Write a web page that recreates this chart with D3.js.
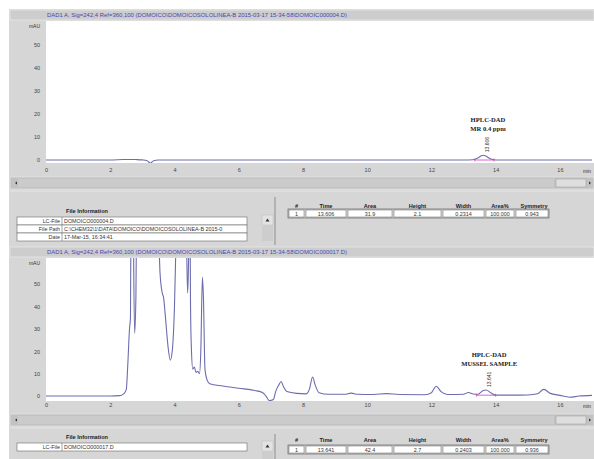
<!DOCTYPE html>
<html>
<head>
<meta charset="UTF-8">
<title>HPLC-DAD chromatograms</title>
<script src="https://d3js.org/d3.v7.min.js"></script>
<style>
  body { margin: 0; background: #fff; font-family: "Liberation Sans", Arial, sans-serif; }
  svg { display: block; }
  .tick text { font-size: 5.5px; fill: #444; font-family: "Liberation Sans", Arial, sans-serif; }
  .sig { font-size: 5.6px; fill: #4646b4; }
  .note { font-family: "Liberation Serif", "Times New Roman", serif; font-weight: bold; font-size: 6.6px; fill: #222; }
  .rt { font-size: 5px; fill: #333; }
  .small { font-size: 5.4px; fill: #333; }
  .hdr { font-size: 5.6px; font-weight: bold; fill: #222; }
</style>
</head>
<body>
<div id="chart"></div>
<script>
const xTicks = [0, 2, 4, 6, 8, 10, 12, 14, 16];
const yTicks = [0, 10, 20, 30, 40, 50];
const tableHeaders = ["#", "Time", "Area", "Height", "Width", "Area%", "Symmetry"];
const fileLabels = ["LC-File", "File Path", "Date"];

// upper run: standard MR 0.4 ppm
const topTitle = "DAD1 A, Sig=242,4 Ref=360,100 (DOMOICO\\DOMOICOSOLOLINEA-B 2015-03-17 15-34-58\\DOMOIC000004.D)";
const topTimes = [0, 0.5, 1, 1.5, 2, 2.4, 2.6, 2.8, 3.0, 3.15, 3.25, 3.35, 3.5, 4, 5, 6, 7, 8, 9, 10, 11, 12, 13, 13.3, 13.45, 13.55, 13.62, 13.7, 13.8, 13.9, 14.0, 14.5, 15, 16, 17];
const topValues = [0, 0, 0, 0, 0, 0.2, 0.25, 0.2, 0.05, -0.3, -1.4, -0.3, 0, 0, 0, 0, 0, 0, 0, 0, 0, 0, 0, 0.1, 0.9, 1.8, 2.1, 1.7, 0.8, 0.2, 0, 0, 0, 0, 0];
const topFile = ["DOMOICO000004.D", "C:\\CHEM32\\1\\DATA\\DOMOICO\\DOMOICOSOLOLINEA-B 2015-0", "17-Mar-15, 16:34:41"];
const topPeak = ["1", "13.606", "31.9", "2.1", "0.2314", "100.000", "0.943"];
const topNote = ["HPLC-DAD", "MR 0.4 ppm"];

// lower run: mussel sample
const botTitle = "DAD1 A, Sig=242,4 Ref=360,100 (DOMOICO\\DOMOICOSOLOLINEA-B 2015-03-17 15-34-58\\DOMOIC000017.D)";
const botTimes = [0, 1, 2, 2.3, 2.42, 2.5, 2.55, 2.6, 2.63, 2.66, 2.7, 2.73, 2.76, 2.8, 2.86, 3.2, 3.5, 3.55, 3.62, 3.66, 3.72, 3.8, 3.87, 3.93, 4.0, 4.05, 4.15, 4.3, 4.38, 4.41, 4.44, 4.47, 4.5, 4.53, 4.57, 4.62, 4.67, 4.72, 4.78, 4.82, 4.87, 4.9, 4.95, 5.02, 5.1, 5.5, 6, 6.5, 6.75, 6.85, 6.95, 7.08, 7.15, 7.25, 7.32, 7.4, 7.5, 7.8, 8.1, 8.2, 8.3, 8.38, 8.5, 8.8, 9.3, 9.5, 9.7, 10.2, 10.6, 11, 11.8, 12.0, 12.15, 12.3, 12.5, 13, 13.15, 13.3, 13.45, 13.6, 13.7, 13.85, 14, 14.5, 15, 15.3, 15.5, 15.7, 16, 16.3, 16.6, 17];
const botValues = [0, 0, 0, 0.2, 1, 3, 15, 30, 35, 120, 140, 60, 28, 45, 150, 300, 80, 55, 46, 44, 35, 22, 16, 20, 40, 70, 200, 150, 65, 46, 62, 110, 40, 20, 12, 13, 10.5, 11, 10, 20, 53, 45, 12, 7, 5.5, 4.5, 3.5, 2.5, 1.5, 0, -2, -1.5, 2, 5, 6.5, 4, 2, 1.2, 1, 3, 8.5, 5, 1.5, 0.8, 0.8, 1.3, 0.8, 0.7, 1.1, 0.7, 0.6, 1.5, 4.4, 2, 0.7, 0.8, 1.6, 0.9, 0.8, 2.4, 2.7, 1.5, 0.4, 0.4, 0.5, 1, 3, 1.2, 0.3, -0.5, 0, 0.3];
const botFile = ["DOMOICO000017.D"];
const botPeak = ["1", "13.641", "42.4", "2.7", "0.2403", "100.000", "0.936"];
const botNote = ["HPLC-DAD", "MUSSEL SAMPLE"];

const panels = [
  { id: "a", title: topTitle, times: topTimes, values: topValues, file: topFile, peak: topPeak, note: topNote,
    titleY: 10, plotTop: 21, plotBottom: 163, yDomain: [-1.3, 60.4], axisY: 168, scrollY: 177,
    infoTop: 191, fileInfoY: 213, tableTop: 217, hdrY: 208, boxTop: 209, peakStart: 13.35, peakEnd: 13.95, base: 0 },
  { id: "b", title: botTitle, times: botTimes, values: botValues, file: botFile, peak: botPeak, note: botNote,
    titleY: 247, plotTop: 258, plotBottom: 401, yDomain: [-2.2, 61.6], axisY: 403, scrollY: 414,
    infoTop: 428, fileInfoY: 439, tableTop: 443, hdrY: 442, boxTop: 445, peakStart: 13.4, peakEnd: 14.0, base: 0.4 }
];

const W = 594, H = 459;
const svg = d3.select("#chart").append("svg").attr("width", W).attr("height", H);
svg.append("rect").attr("width", W).attr("height", H).attr("fill", "#fff");
svg.append("rect").attr("x", 9).attr("y", 9).attr("width", W - 9).attr("height", H - 9).attr("fill", "#d6d6d6");

const x = d3.scaleLinear().domain([0, 17]).range([46, 592]);
const colEdges = [288, 305, 347, 393, 442, 485, 515, 549];

function drawPanel(p) {
  const g = svg.append("g");
  const y = d3.scaleLinear().domain(p.yDomain).range([p.plotBottom, p.plotTop]);

  // signal title bar
  g.append("rect").attr("x", 10).attr("y", p.titleY).attr("width", W - 10).attr("height", 10)
    .attr("fill", "#cdcdcd").attr("stroke", "#ececec").attr("stroke-width", 0.7);
  g.append("text").attr("class", "sig").attr("x", 47).attr("y", p.titleY + 7)
    .attr("textLength", 300).attr("lengthAdjust", "spacingAndGlyphs").text(p.title);

  // plot area
  g.append("rect").attr("x", 46).attr("y", p.plotTop).attr("width", W - 46)
    .attr("height", p.plotBottom - p.plotTop).attr("fill", "#fff");
  g.append("clipPath").attr("id", "clip-" + p.id).append("rect")
    .attr("x", 46).attr("y", p.plotTop).attr("width", W - 46).attr("height", p.plotBottom - p.plotTop);

  const yAxis = g.append("g").attr("transform", "translate(40,0)")
    .call(d3.axisLeft(y).tickValues(yTicks).tickSize(0).tickPadding(0));
  yAxis.select(".domain").remove();
  g.append("text").attr("class", "small").attr("x", 40).attr("y", p.plotTop + 7)
    .attr("text-anchor", "end").style("font-size", "5px").text("mAU");

  const xAxis = g.append("g").attr("transform", `translate(0,${p.axisY})`)
    .call(d3.axisBottom(x).tickValues(xTicks).tickSize(0).tickPadding(0));
  xAxis.select(".domain").remove();
  g.append("text").attr("class", "small").attr("x", 587).attr("y", p.axisY + 5)
    .attr("text-anchor", "middle").style("font-size", "5px").text("min");

  // trace
  const pts = p.times.map((t, i) => [t, p.values[i]]);
  const line = d3.line().x(d => x(d[0])).y(d => y(d[1])).curve(d3.curveMonotoneX);
  g.append("path").datum(pts).attr("clip-path", `url(#clip-${p.id})`)
    .attr("d", line).attr("fill", "none").attr("stroke", "#6c6cae").attr("stroke-width", 1.1);

  // integration baseline
  const baseY = y(p.base);
  g.append("line").attr("x1", x(p.peakStart)).attr("x2", x(p.peakEnd))
    .attr("y1", baseY).attr("y2", baseY).attr("stroke", "#d040c0").attr("stroke-width", 0.8);
  [p.peakStart, p.peakEnd].forEach(t => {
    g.append("line").attr("x1", x(t)).attr("x2", x(t)).attr("y1", baseY - 1.5).attr("y2", baseY + 1.5)
      .attr("stroke", "#d040c0").attr("stroke-width", 0.8);
  });

  // annotation
  const peakT = +p.peak[1];
  const ax = x(peakT) + 5;
  const peakTop = y(d3.max(pts.filter(d => Math.abs(d[0] - peakT) < 0.2), d => d[1]));
  g.append("text").attr("class", "rt").attr("transform", `translate(${ax + 1.5},${peakTop - 3}) rotate(-90)`)
    .text(p.peak[1]);
  const noteBottom = peakTop - 24;
  p.note.forEach((s, i) => {
    g.append("text").attr("class", "note").attr("x", ax).attr("y", noteBottom - (p.note.length - 1 - i) * 9)
      .attr("text-anchor", "middle").text(s);
  });

  // horizontal scroll bar
  g.append("rect").attr("x", 10).attr("y", p.scrollY).attr("width", W - 10).attr("height", 12)
    .attr("fill", "#c2c2c2").attr("stroke", "#e4e4e4").attr("stroke-width", 0.7);
  g.append("rect").attr("x", 18).attr("y", p.scrollY + 2).attr("width", 536).attr("height", 8).attr("fill", "#cbcbcb");
  g.append("rect").attr("x", 556).attr("y", p.scrollY + 2).attr("width", 30).attr("height", 8)
    .attr("fill", "#dedede").attr("stroke", "#9a9a9a").attr("stroke-width", 0.5);
  g.append("path").attr("d", `M15,${p.scrollY + 6} l2,-1.5 v3 z`).attr("fill", "#333");
  g.append("path").attr("d", `M591,${p.scrollY + 6} l-2,-1.5 v3 z`).attr("fill", "#333");

  // file information
  g.append("line").attr("x1", 10).attr("x2", W).attr("y1", p.infoTop).attr("y2", p.infoTop)
    .attr("stroke", "#e6e6e6").attr("stroke-width", 1);
  g.append("text").attr("class", "hdr").attr("x", 87).attr("y", p.fileInfoY)
    .attr("text-anchor", "middle").text("File Information");
  p.file.forEach((v, i) => {
    const ry = p.tableTop + i * 8;
    g.append("rect").attr("x", 17).attr("y", ry).attr("width", 230).attr("height", 8)
      .attr("fill", "#fff").attr("stroke", "#6a6a6a").attr("stroke-width", 0.6);
    g.append("line").attr("x1", 62).attr("x2", 62).attr("y1", ry).attr("y2", ry + 8)
      .attr("stroke", "#6a6a6a").attr("stroke-width", 0.6);
    g.append("text").attr("class", "small").attr("x", 60).attr("y", ry + 6)
      .attr("text-anchor", "end").text(fileLabels[i]);
    g.append("text").attr("class", "small").attr("x", 64).attr("y", ry + 6).text(v);
  });
  g.append("rect").attr("x", 262).attr("y", p.tableTop - 2).attr("width", 11).attr("height", 10)
    .attr("fill", "#e2e2e2").attr("stroke", "#bdbdbd").attr("stroke-width", 0.5);
  g.append("path").attr("d", `M267.5,${p.tableTop + 1.5} l2,3 h-4 z`).attr("fill", "#333");
  g.append("rect").attr("x", 262).attr("y", p.tableTop + 8).attr("width", 11).attr("height", 16).attr("fill", "#cdcdcd");
  g.append("line").attr("x1", 275).attr("x2", 275).attr("y1", p.infoTop + 6).attr("y2", p.infoTop + 54)
    .attr("stroke", "#8e8e8e").attr("stroke-width", 1);

  // peak table
  tableHeaders.forEach((h, i) => {
    const cx = (colEdges[i] + colEdges[i + 1]) / 2 + (i === 6 ? 2 : 0);
    g.append("text").attr("class", "hdr").attr("x", cx).attr("y", p.hdrY)
      .attr("text-anchor", "middle").text(h);
    g.append("rect").attr("x", colEdges[i] + 1).attr("y", p.boxTop + 1)
      .attr("width", colEdges[i + 1] - colEdges[i] - 2).attr("height", 7)
      .attr("fill", "#fff").attr("stroke", "#6a6a6a").attr("stroke-width", 0.5);
    g.append("text").attr("class", "small").attr("x", (colEdges[i] + colEdges[i + 1]) / 2)
      .attr("y", p.boxTop + 6.5).attr("text-anchor", "middle").text(p.peak[i]);
  });
  g.append("rect").attr("x", colEdges[0]).attr("y", p.boxTop).attr("width", colEdges[7] - colEdges[0])
    .attr("height", 9).attr("fill", "none").attr("stroke", "#555").attr("stroke-width", 0.6);
}

panels.forEach(drawPanel);
</script>
</body>
</html>
